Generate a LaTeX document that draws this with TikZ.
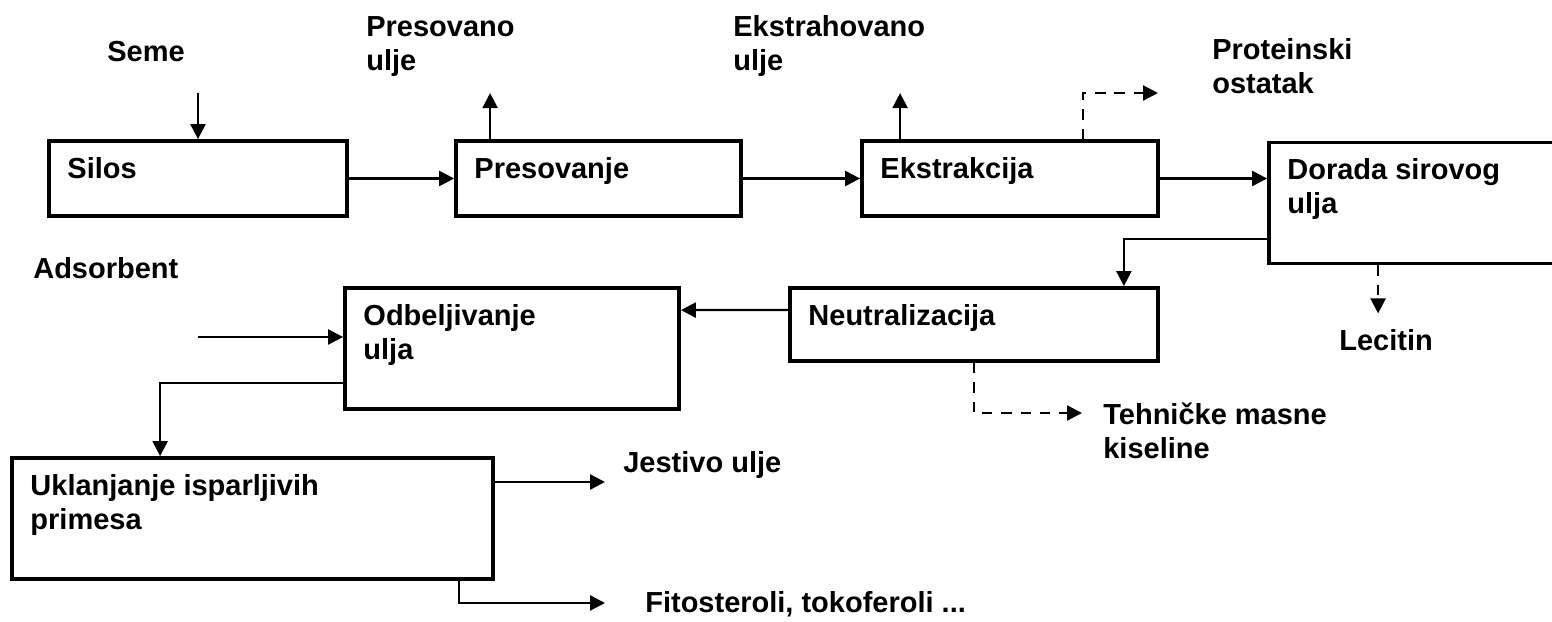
\documentclass[tikz,border=0pt]{standalone}
\usepackage{fontspec}
\setmainfont{Liberation Sans}
\usetikzlibrary{arrows.meta}

\begin{document}
\begin{tikzpicture}[x=0.02cm, y=-0.02cm, >={Triangle[length=8.5pt,width=8.5pt]},
  txt/.style={font=\fontsize{16.5}{19.3}\selectfont\bfseries, inner sep=0pt, align=left, anchor=base west},
  box/.style={draw, line width=2.2pt, minimum height=1.5cm},
  tallbox/.style={box, minimum height=2.42cm},
  boxtxt/.style={txt, xshift=0.4cm, yshift=-0.78cm},
  boxtxttwo/.style={boxtxt, yshift=-0.68cm},
  flow/.style={line width=1.3pt, ->},
  side/.style={flow, dash pattern=on 6pt off 5pt}]
\useasboundingbox (0,0) rectangle (1552,622);
% procesi
\node[box, minimum width=5.96cm, label={[boxtxt]north west:Silos}] (silos) at (198,178.5) {};
\node[box, minimum width=5.7cm, label={[boxtxt]north west:Presovanje}] (presovanje) at (598.5,178.5) {};
\node[box, minimum width=5.92cm, label={[boxtxt]north west:Ekstrakcija}] (ekstrakcija) at (1010,178.5) {};
\node[tallbox, minimum width=5.74cm, label={[boxtxttwo]north west:Dorada sirovog\\ulja}] (dorada) at (1412.5,203) {};
\node[box, minimum width=7.36cm, minimum height=1.46cm, label={[boxtxt]north west:Neutralizacija}] (neutralizacija) at (974,324.5) {};
\node[tallbox, minimum width=6.68cm, label={[boxtxttwo]north west:Odbeljivanje\\ulja}] (odbeljivanje) at (512,348.5) {};
\node[tallbox, minimum width=9.62cm, label={[boxtxttwo]north west:Uklanjanje isparljivih\\primesa}] (uklanjanje) at (252.5,518.5) {};
% ulazi i izlazi
\node[txt] (seme) at (107,61) {Seme};
\node[txt] (presovano) at (366,70) {Presovano\\ulje};
\node[txt] (ekstrahovano) at (733,70) {Ekstrahovano\\ulje};
\node[txt] (proteinski) at (1212,93) {Proteinski\\ostatak};
\node[txt] (adsorbent) at (33,278) {Adsorbent};
\node[txt] (lecitin) at (1339,350) {Lecitin};
\node[txt] (tehnicke) at (1103,458) {Tehničke masne\\kiseline};
\node[txt] (jestivo) at (623,472) {Jestivo ulje};
\node[txt] (fito) at (645,612) {Fitosteroli, tokoferoli ...};
\coordinate (semein) at (198,93);
\coordinate (adsin) at (198,337);
\coordinate (protout) at (1158,93);
\coordinate (tehout) at (1082,413);
\coordinate (jestout) at (605,482);
\coordinate (fitoout) at (605,603);
% tok
\draw[flow] (semein) -- (silos.north);
\draw[flow] (silos.east) -- (presovanje.west);
\draw[flow] ([shift={(36,0)}]presovanje.north west) -- ++(0,-46);
\draw[flow] (presovanje.east) -- (ekstrakcija.west);
\draw[flow] ([shift={(40,0)}]ekstrakcija.north west) -- ++(0,-46);
\draw[side] ([shift={(223,0)}]ekstrakcija.north west) |- (protout);
\draw[flow] (ekstrakcija.east) -- (ekstrakcija.east -| dorada.west);
\draw[flow] ([shift={(0,36)}]dorada.west) -| ([shift={(-36,0)}]neutralizacija.north east);
\draw[side] ([shift={(111,0)}]dorada.south west) -- ++(0,48);
\draw[flow] ([shift={(0,24)}]neutralizacija.north west) -- ([shift={(0,24)}]odbeljivanje.north east);
\draw[side] (neutralizacija.south) |- (tehout);
\draw[flow] (adsin) -- (adsin -| odbeljivanje.west);
\draw[flow] ([shift={(0,97)}]odbeljivanje.north west) -| ([shift={(150,0)}]uklanjanje.north west);
\draw[flow] (jestout -| uklanjanje.east) -- (jestout);
\draw[flow] ([shift={(-36,0)}]uklanjanje.south east) |- (fitoout);
\end{tikzpicture}
\end{document}
